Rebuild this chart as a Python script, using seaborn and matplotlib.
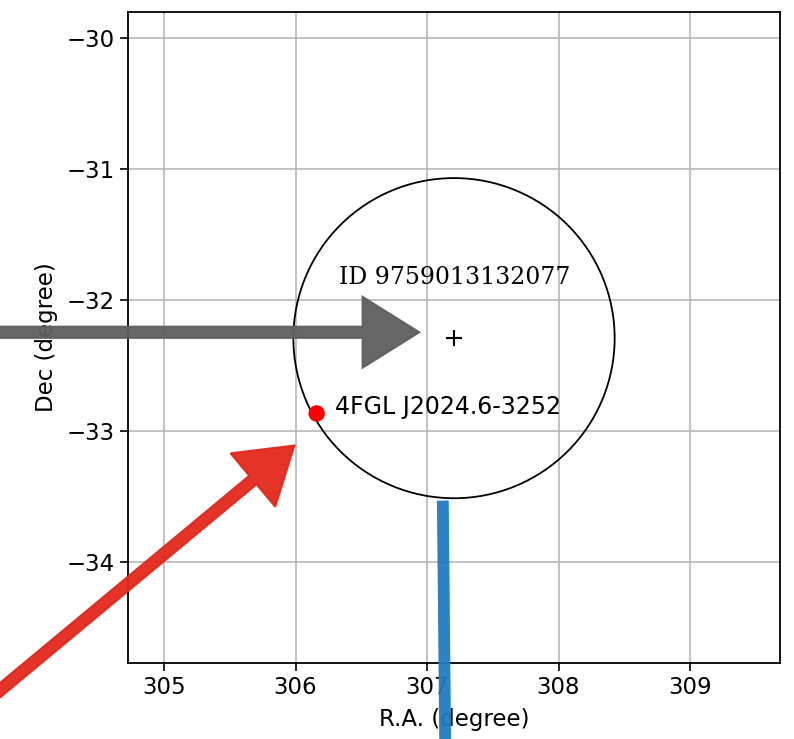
import numpy as np
import pandas as pd
import matplotlib
matplotlib.use("Agg")
import matplotlib.pyplot as plt
import seaborn as sns
from matplotlib.patches import Circle

# field centre and search radius (degrees)
center_ra = [307.205]
center_dec = [-32.29]
radius = 1.222
field_id = "ID 9759013132077"

# known gamma-ray source
src_name = ["4FGL J2024.6-3252"]
src_ra = [306.16]
src_dec = [-32.865]

# annotation arrows drawn over the figure (tail -> tip, degrees)
gray_arrow = [(303.70, -32.245), (306.94, -32.245)]
red_arrow = [(303.70, -35.02), (305.99, -33.11)]
blue_line = [(307.12, -33.53), (307.14, -35.60)]

xticks = [305, 306, 307, 308, 309]
yticks = [-30, -31, -32, -33, -34]

sns.set_style("ticks")
plt.rcParams['font.family'] = ['DejaVu Sans']
plt.rcParams['text.color'] = 'black'
plt.rcParams['axes.labelcolor'] = 'black'
plt.rcParams['xtick.color'] = 'black'
plt.rcParams['ytick.color'] = 'black'

fig = plt.figure(figsize=(7.94, 7.39), dpi=100)
ax = fig.add_axes([0.1612, 0.1028, 0.8212, 0.881])

df = pd.DataFrame({'ra': src_ra, 'dec': src_dec, 'name': src_name})

ax.add_patch(Circle((center_ra[0], center_dec[0]), radius, fill=False,
                    edgecolor='black', lw=1.3, zorder=3))
ax.plot(center_ra, center_dec, marker='+', color='black', ms=12, mew=1.5,
        ls='none', zorder=4)
sns.scatterplot(data=df, x='ra', y='dec', color='red', s=140,
                edgecolor='none', ax=ax, zorder=5)
ax.text(src_ra[0] + 0.14, src_dec[0] + 0.05, src_name[0], fontsize=17,
        va='center', ha='left', zorder=6)
ax.text(306.33, -31.83, field_id, fontsize=17, family='DejaVu Serif',
        va='center', ha='left', zorder=6)

ax.set_xlim(center_ra[0] - 2.48, center_ra[0] + 2.48)
ax.set_ylim(-34.77, -29.80)
ax.set_xticks(xticks)
ax.set_yticks(yticks)
ax.tick_params(labelsize=16.5, length=6, width=1.2, direction='out')
ax.grid(True, color='#b8b8b8', lw=1.2)
ax.set_axisbelow(True)
for s in ax.spines.values():
    s.set_linewidth(1.3)
    s.set_color('black')
ax.set_xlabel('R.A. (degree)', fontsize=16.5, labelpad=6)
ax.set_ylabel('Dec (degree)', fontsize=16.5, labelpad=6)

# overlay arrows
(x0, y0), (x1, y1) = gray_arrow
ax.arrow(x0, y0, x1 - x0, y1 - y0, width=0.085, head_width=0.54,
         head_length=0.43, length_includes_head=True, color='#5f5f5f',
         alpha=0.95, lw=1.5, clip_on=False, zorder=7)
(x0, y0), (x1, y1) = red_arrow
ax.arrow(x0, y0, x1 - x0, y1 - y0, width=0.085, head_width=0.53,
         head_length=0.41, length_includes_head=True, color='#e3281b',
         alpha=0.95, lw=1.5, clip_on=False, zorder=7)
(x0, y0), (x1, y1) = blue_line
ax.plot([x0, x1], [y0, y1], color='#1f7cc2', lw=8.5, alpha=0.95,
        solid_capstyle='butt', clip_on=False, zorder=7)

plt.savefig('out.png', dpi=100)
